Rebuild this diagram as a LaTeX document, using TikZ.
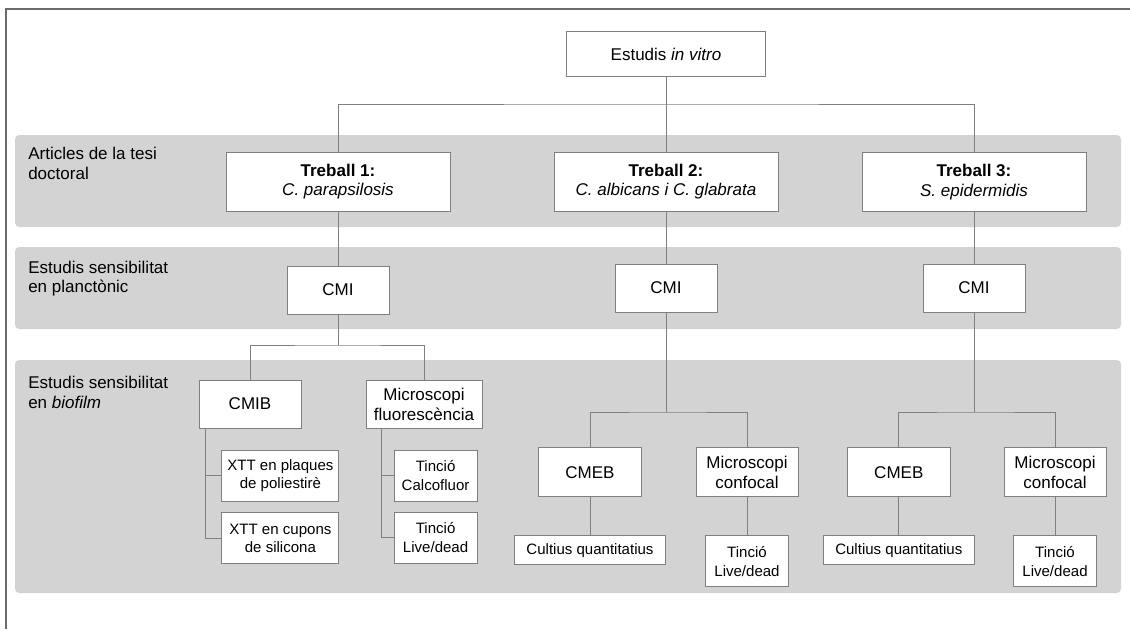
\documentclass[tikz,border=0pt]{standalone}
\usepackage{fontspec}
\setmainfont{Liberation Sans}
\usetikzlibrary{positioning}
\definecolor{bandgray}{HTML}{D3D3D3}
\definecolor{linegray}{HTML}{808080}
\definecolor{framegray}{HTML}{6B6B6B}
\newcommand{\mainsize}{\fontsize{12.1}{14.2}\selectfont}
\newcommand{\leafsize}{\fontsize{10.7}{13.2}\selectfont}
\tikzset{
  box/.style={rectangle,draw=linegray,fill=white,line width=0.7pt,
    align=center,inner sep=0pt,font=\mainsize},
  leaf/.style={box,font=\leafsize},
  band/.style={fill=bandgray,rounded corners=3pt},
  link/.style={draw=linegray,line width=0.7pt},
  lbl/.style={anchor=north west,align=left,inner sep=0pt,font=\mainsize},
}

\begin{document}
\begin{tikzpicture}
    \useasboundingbox (0,0) rectangle (28.25,-15.725);
    \draw[framegray,line width=1.1pt] (0.15,-15.725) -- (0.15,-0.225) -- (28.25,-0.225);

    % grey bands
    \fill[band] (0.375,-3.375) rectangle (28.025,-5.675);
    \fill[band] (0.375,-6.175) rectangle (28.025,-8.225);
    \fill[band] (0.375,-9.0) rectangle (28.025,-14.825);

    \node[lbl] (lart) at (0.7,-3.675) {Articles de la tesi\\doctoral};
    \node[lbl] (lplan) at (0.7,-6.51) {Estudis sensibilitat\\en planctònic};
    \node[lbl] (lbio) at (0.7,-9.39) {Estudis sensibilitat\\en \textit{biofilm}};

    % top levels
    \node[box,minimum width=4.975cm,minimum height=1.125cm] (invitro) at (16.65,-1.36)
      {Estudis \textit{in vitro}};
    \node[box,minimum width=5.6cm,minimum height=1.475cm] (t1) at (8.45,-4.54)
      {\textbf{Treball 1:}\\\textit{C. parapsilosis}};
    \node[box,minimum width=5.6cm,minimum height=1.475cm] (t2) at (16.65,-4.54)
      {\textbf{Treball 2:}\\\textit{C. albicans i C. glabrata}};
    \node[box,minimum width=5.6cm,minimum height=1.475cm] (t3) at (24.35,-4.56)
      {\textbf{Treball 3:}\\\textit{S. epidermidis}};
    \node[box,minimum width=2.55cm,minimum height=1.2cm] (cmi1) at (8.45,-7.25) {CMI};
    \node[box,minimum width=2.55cm,minimum height=1.2cm] (cmi2) at (16.65,-7.2) {CMI};
    \node[box,minimum width=2.55cm,minimum height=1.2cm] (cmi3) at (24.35,-7.2) {CMI};

    % Treball 1 biofilm
    \node[box,minimum width=2.55cm,minimum height=1.2cm] (cmib) at (6.25,-10.1) {CMIB};
    \node[box,minimum width=2.9cm,minimum height=1.2cm] (mfluo) at (10.6,-10.1)
      {Microscopi\\fluorescència};
    \node[leaf,minimum width=2.925cm,minimum height=1.275cm] (xtt1) at (7.01,-11.89)
      {XTT en plaques\\de poliestirè};
    \node[leaf,minimum width=2.925cm,minimum height=1.275cm,below=0.27cm of xtt1] (xtt2)
      {XTT en cupons\\de silicona};
    \node[leaf,minimum width=2.075cm,minimum height=1.275cm] (tcal) at (10.89,-11.89)
      {Tinció\\Calcofluor};
    \node[leaf,minimum width=2.075cm,minimum height=1.275cm,below=0.25cm of tcal] (tld1)
      {Tinció\\Live/dead};

    % Treball 2 and 3 biofilm
    \node[box,minimum width=2.575cm,minimum height=1.225cm] (cmeb2) at (14.75,-11.81) {CMEB};
    \node[box,minimum width=2.55cm,minimum height=1.225cm] (mconf2) at (18.675,-11.81)
      {Microscopi\\confocal};
    \node[leaf,minimum width=3.775cm,minimum height=0.725cm,below=0.95cm of cmeb2] (cult2)
      {Cultius quantitatius};
    \node[leaf,minimum width=2.075cm,minimum height=1.275cm,below=0.95cm of mconf2] (tld2)
      {Tinció\\Live/dead};
    \node[box,minimum width=2.575cm,minimum height=1.225cm] (cmeb3) at (22.47,-11.81) {CMEB};
    \node[box,minimum width=2.55cm,minimum height=1.225cm] (mconf3) at (26.375,-11.81)
      {Microscopi\\confocal};
    \node[leaf,minimum width=3.775cm,minimum height=0.725cm,below=0.95cm of cmeb3] (cult3)
      {Cultius quantitatius};
    \node[leaf,minimum width=2.075cm,minimum height=1.275cm,below=0.95cm of mconf3] (tld3)
      {Tinció\\Live/dead};

    % connectors
    \coordinate (hub) at (16.65,-2.6);
    \coordinate (sp1) at (8.45,-8.625);
    \coordinate (sp2) at (16.65,-10.3);
    \coordinate (sp3) at (24.35,-10.3);
    \coordinate (br1) at ([xshift=0.175cm]cmib.south west);
    \coordinate (br2) at ([xshift=0.4cm]mfluo.south west);

    \draw[link] (invitro) -- (t2);
    \draw[link] (t1.north) |- (hub) -| (t3.north);
    \draw[link] (t1) -- (cmi1);
    \draw[link] (t2) -- (cmi2);
    \draw[link] (t3) -- (cmi3);

    \draw[link] (cmi1) -- (sp1);
    \draw[link] (cmib.north) |- (sp1) -| (mfluo.north);
    \draw[link] (br1) |- (xtt2.west);
    \draw[link] (xtt1.west) -- (xtt1.west -| br1);
    \draw[link] (br2) |- (tld1.west);
    \draw[link] (tcal.west) -- (tcal.west -| br2);

    \draw[link] (cmi2) -- (sp2);
    \draw[link] (cmeb2.north) |- (sp2) -| (mconf2.north);
    \draw[link] (cmeb2) -- (cult2);
    \draw[link] (mconf2) -- (tld2);

    \draw[link] (cmi3) -- (sp3);
    \draw[link] (cmeb3.north) |- (sp3) -| (mconf3.north);
    \draw[link] (cmeb3) -- (cult3);
    \draw[link] (mconf3) -- (tld3);
  \end{tikzpicture}
\end{document}
